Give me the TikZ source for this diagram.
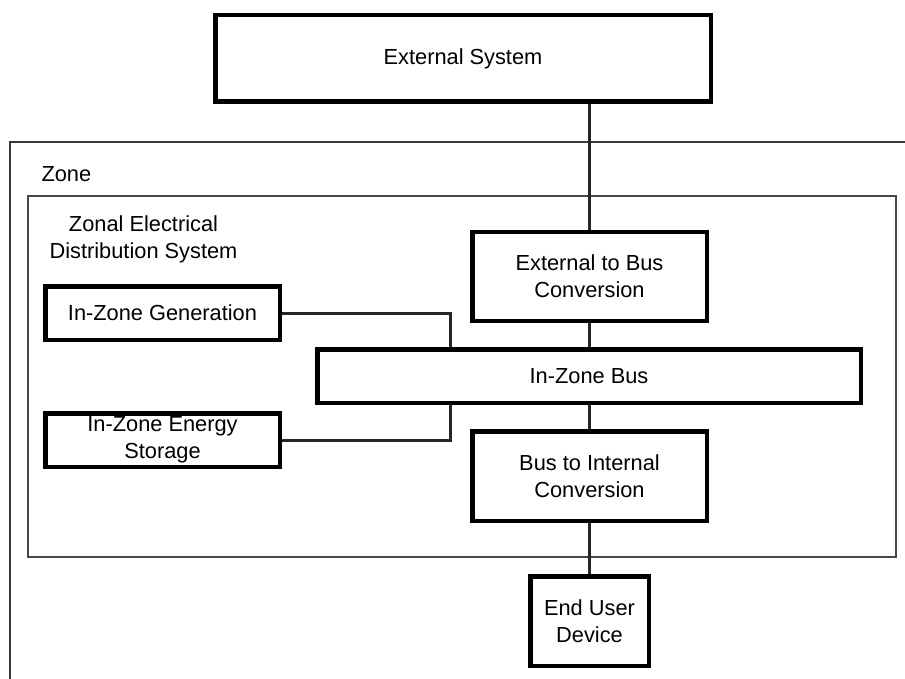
\documentclass[tikz,border=0pt]{standalone}
\usepackage{fontspec}
\setmainfont{Liberation Sans}
\begin{document}
\begin{tikzpicture}[x=1pt,y=-1pt,
  every node/.style={font=\fontsize{21.8}{27}\selectfont, text=black},
  unit/.style={draw=black, line width=4.5pt, inner sep=0pt, align=center},
  link/.style={draw=black!85, line width=3pt},
  frame/.style={draw=black!78, line width=2pt}]
  \useasboundingbox (0,0) rectangle (905,679);
  \begin{scope}
    \clip (0,0) rectangle (905,679);
    % outer zone, running past the right and bottom edges
    \draw[frame] (10,142) rectangle (930,700);
  \end{scope}
  % zonal electrical distribution system
  \draw[frame, draw=black!72] (28,196) rectangle (896,557);

  \node[anchor=base west] (zone) at (38,182) {Zone};
  \node[align=center] (zeds) at (143.5,239) {Zonal Electrical\\Distribution System};

  % functional blocks
  \node[unit, minimum width=495.5pt, minimum height=86.5pt] (ext) at (463,58.5) {External System};
  \node[unit, minimum width=234.5pt, minimum height=88.5pt] (e2b) at (589.5,276.5) {External to Bus\\Conversion};
  \node[unit, minimum width=234.5pt, minimum height=53.5pt] (gen) at (162.5,313) {In-Zone Generation};
  \node[unit, minimum width=543.5pt, minimum height=53.5pt] (bus) at (589,376) {In-Zone Bus};
  \node[unit, minimum width=234.5pt, minimum height=53.5pt] (sto) at (162.5,440) {In-Zone Energy\\Storage};
  \node[unit, minimum width=234.5pt, minimum height=89.5pt] (b2i) at (589.5,476) {Bus to Internal\\Conversion};
  \node[unit, minimum width=118.5pt, minimum height=89.5pt] (end) at (589.5,621) {End User\\Device};

  % storage box top edge lies over its label
  \draw[line width=4.5pt] ([yshift=-2.25pt]sto.north west) -- ([yshift=-2.25pt]sto.north east);

  % connections
  \draw[link] (ext.south -| e2b.north) -- (e2b.north);
  \draw[link] (e2b.south) -- (bus.north -| e2b.south);
  \draw[link] (bus.south -| b2i.north) -- (b2i.north);
  \draw[link] (b2i.south) -- (end.north);
  \draw[link] (gen.east) -| ([xshift=135.75pt]bus.north west);
  \draw[link] (sto.east) -| ([xshift=135.75pt]bus.south west);
\end{tikzpicture}
\end{document}
